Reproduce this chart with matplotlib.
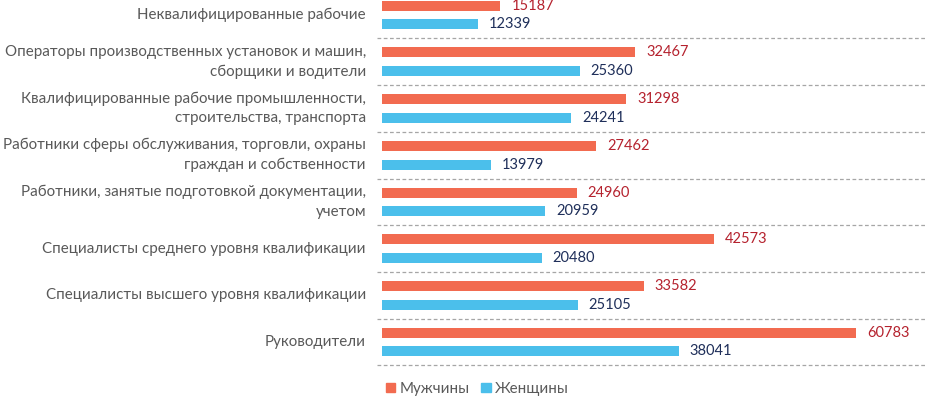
import numpy as np
import matplotlib.pyplot as plt
from matplotlib.patches import Patch

plt.rcParams['font.family'] = ['Lato', 'Open Sans', 'DejaVu Sans']

# categories from bottom to top
categories = [
    'Руководители',
    'Специалисты высшего уровня квалификации',
    'Специалисты среднего уровня квалификации',
    'Работники, занятые подготовкой документации,\nучетом',
    'Работники сферы обслуживания, торговли, охраны\nграждан и собственности',
    'Квалифицированные рабочие промышленности,\nстроительства, транспорта',
    'Операторы производственных установок и машин,\nсборщики и водители',
    'Неквалифицированные рабочие',
]
men = [60783, 33582, 42573, 24960, 27462, 31298, 32467, 15187]
women = [38041, 25105, 20480, 20959, 13979, 24241, 25360, 12339]

men_color = '#F26B50'
women_color = '#4BBFEB'
men_text = '#B5222E'
women_text = '#1F2F5A'
label_color = '#595959'

W, H = 925, 399
fig = plt.figure(figsize=(W / 100, H / 100), dpi=100)

# axes from the dashed separators' left edge to the right border
px_per_unit = 474 / 60783
ax_left = 377
ax = fig.add_axes([ax_left / W, 0, (W - ax_left) / W, 1])
ax.set_xlim(-5 / px_per_unit, (W - 382) / px_per_unit)

spacing = 46.7
bottom_px = 57
ax.set_ylim(-bottom_px / spacing, (H - bottom_px) / spacing)

y = np.arange(len(categories))
off = 0.2
h = 0.215
ax.barh(y + off, men, height=h, color=men_color)
ax.barh(y - off, women, height=h, color=women_color)

pad = 11 / px_per_unit
for yi, m, w in zip(y, men, women):
    ax.text(m + pad, yi + off, str(m), color=men_text, fontsize=10.5,
            va='center', ha='left')
    ax.text(w + pad, yi - off, str(w), color=women_text, fontsize=10.5,
            va='center', ha='left')

# dashed separators between groups
for yi in np.arange(-0.5, len(categories), 1.0):
    ax.axhline(yi, color='#A6A6A6', linestyle=(0, (3, 2)), linewidth=0.9)

# category labels, right aligned left of the bars
for yi, c in zip(y, categories):
    ax.text(-16 / px_per_unit, yi, c, ha='right', va='center', color=label_color,
            fontsize=10.9, linespacing=1.5, clip_on=False)

ax.axis('off')

handles = [Patch(color=men_color, label='Мужчины'),
           Patch(color=women_color, label='Женщины')]
fig.legend(handles=handles, loc='center left', bbox_to_anchor=(372 / W, 1 - 389 / H),
           ncol=2, frameon=False, fontsize=10.9, handlelength=0.6, handleheight=0.6,
           handletextpad=0.3, columnspacing=0.8, labelcolor=label_color)

fig.savefig('out.png', dpi=100)
